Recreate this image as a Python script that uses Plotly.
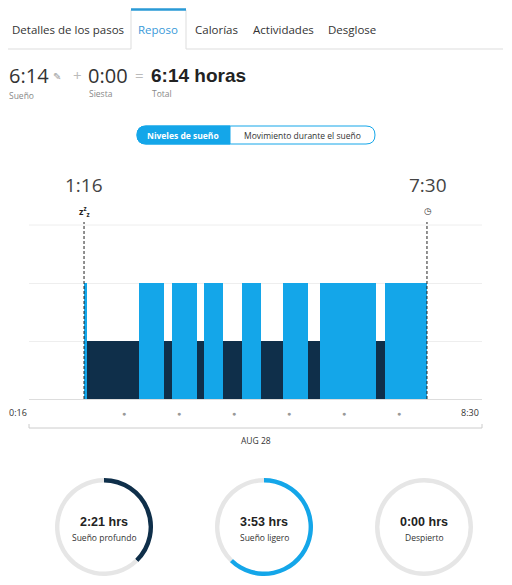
import plotly.graph_objects as go

W, H = 496, 569   # page body has an 8px margin inside the 512x585 window
OFF = 8
# sleep segments, minutes since midnight
light_start = [76, 136, 172, 207, 248, 293, 333, 404]
light_end   = [79, 163, 199, 227.5, 269, 320, 394, 450]
deep_start  = [79, 163, 199, 227.5, 269, 320, 394]
deep_end    = [136, 172, 207, 248, 293, 333, 404]
hour_dots = [120, 180, 240, 300, 360, 420]
x_min, x_max = 16, 510
sleep_start, sleep_end = 76, 450
ring_labels = ["2:21 hrs", "3:53 hrs", "0:00 hrs"]
ring_names = ["Sueño profundo", "Sueño ligero", "Despierto"]
ring_minutes = [141, 233, 0]
total_minutes = 374
ring_colors = ["#0f2f4a", "#14a6e9", "#e6e6e6"]

LIGHT, DEEP = "#14a6e9", "#0f2f4a"
FONT = "Open Sans"

def px(x): return (x - OFF) / W
def py(y): return 1 - (y - OFF) / H

fig = go.Figure()
fig.add_trace(go.Bar(x=[(s + e) / 2 for s, e in zip(light_start, light_end)],
                     y=[2] * len(light_start), width=[e - s for s, e in zip(light_start, light_end)],
                     marker=dict(color=LIGHT, line_width=0), hoverinfo="skip"))
fig.add_trace(go.Bar(x=[(s + e) / 2 for s, e in zip(deep_start, deep_end)],
                     y=[1] * len(deep_start), width=[e - s for s, e in zip(deep_start, deep_end)],
                     marker=dict(color=DEEP, line_width=0), hoverinfo="skip"))

centers = [104, 264, 424]
for i, c in enumerate(centers):
    val = ring_minutes[i]
    vals = [val, total_minutes - val] if val > 0 else [1]
    cols = [ring_colors[i], "#e6e6e6"] if val > 0 else ["#e6e6e6"]
    fig.add_trace(go.Pie(values=vals, marker=dict(colors=cols, line=dict(color="white", width=0)),
                         hole=0.91, sort=False, direction="clockwise", rotation=0,
                         textinfo="none", hoverinfo="skip", showlegend=False,
                         domain=dict(x=[px(c - 49), px(c + 49)], y=[py(576), py(478)])))

ann = []
def T(x, y, text, size=12, color="#333", anchor="left", family=FONT):
    ann.append(dict(x=px(x), y=py(y), xref="paper", yref="paper", text=text, showarrow=False,
                    xanchor=anchor, yanchor="middle", font=dict(size=size, color=color, family=family)))

T(68, 30, "Detalles de los pasos", 11.5, "#333", "center")
T(158, 30, "Reposo", 11.5, "#3a9ad9", "center")
T(216, 30, "Calorías", 11.5, "#333", "center")
T(283, 30, "Actividades", 11.5, "#333", "center")
T(352, 30, "Desglose", 11.5, "#333", "center")
T(7, 75, "6:14", 20, "#333")
T(51, 76, "✎", 10, "#999")
T(71, 75, "+", 15, "#bbb")
T(86, 75, "0:00", 20, "#333")
T(133, 75, "=", 15, "#bbb")
T(149, 75, "<b>6:14 horas</b>", 19, "#222", family="Liberation Sans")
T(7, 95, "Sueño", 8.5, "#888")
T(87, 93, "Siesta", 8.5, "#888")
T(150, 93, "Total", 8.5, "#888")
T(183, 135, "<b>Niveles de sueño</b>", 8.5, "white", "center")
T(302, 135, "Movimiento durante el sueño", 8.5, "#333", "center")
T(84, 185, "1:16", 19, "#444", "center")
T(428, 185, "7:30", 19, "#444", "center")
T(84, 211, "<b>z<sup>z</sup><sub>z</sub></b>", 9, "#222", "center")
T(428, 211, "◷", 9, "#333", "center", family="DejaVu Sans")
T(18, 412, "0:16", 9, "#333", "center")
T(470, 412, "8:30", 9, "#333", "center")
T(256, 440, "AUG 28", 8.5, "#333", "center")
for h in hour_dots:
    ann.append(dict(x=h, y=py(413), xref="x", yref="paper", text="●", showarrow=False,
                    xanchor="center", yanchor="middle", font=dict(size=7, color="#999")))
for c, l, n in zip(centers, ring_labels, ring_names):
    T(c, 522, f"<b>{l}</b>", 12.5, "#222", "center", family="Liberation Sans")
    T(c, 537, n, 8.5, "#333", "center")

shapes = []
def L(x0, y0, x1, y1, color="#ddd", width=1, dash="solid"):
    shapes.append(dict(type="line", xref="paper", yref="paper", x0=px(x0), y0=py(y0), x1=px(x1), y1=py(y1),
                       line=dict(color=color, width=width, dash=dash)))
L(8, 49, 131, 49); L(186, 49, 503, 49)
L(131, 10, 131, 49); L(186, 10, 186, 49)
L(131, 9.5, 186, 9.5, "#2a9ad6", 2.5)
L(29, 225, 482, 225, "#eeeeee")
def pill(x0, x1, y0, y1, r, fill, line):
    p = (f"M {px(x0+r)} {py(y0)} L {px(x1-r)} {py(y0)} Q {px(x1)} {py(y0)} {px(x1)} {py((y0+y1)/2)} "
         f"Q {px(x1)} {py(y1)} {px(x1-r)} {py(y1)} L {px(x0+r)} {py(y1)} Q {px(x0)} {py(y1)} {px(x0)} {py((y0+y1)/2)} "
         f"Q {px(x0)} {py(y0)} {px(x0+r)} {py(y0)} Z")
    shapes.append(dict(type="path", xref="paper", yref="paper", path=p, fillcolor=fill, line=dict(color=line, width=1)))
pill(137, 375, 126, 144, 9, "white", "#14a6e9")
p = (f"M {px(146)} {py(126)} L {px(230)} {py(126)} L {px(230)} {py(144)} L {px(146)} {py(144)} "
     f"Q {px(137)} {py(144)} {px(137)} {py(135)} Q {px(137)} {py(126)} {px(146)} {py(126)} Z")
shapes.append(dict(type="path", xref="paper", yref="paper", path=p, fillcolor="#14a6e9", line=dict(color="#14a6e9", width=1)))
L(29, 428, 482, 428, "#ccc"); L(29, 424, 29, 428, "#ccc"); L(482, 424, 482, 428, "#ccc")
for t in (sleep_start, sleep_end):
    shapes.append(dict(type="line", xref="x", yref="paper", x0=t, x1=t, y0=py(399), y1=py(222),
                       line=dict(color="#222", width=1, dash="3px,2px"), layer="above"))

fig.update_layout(
    width=W, height=H, margin=dict(l=0, r=0, t=0, b=0), paper_bgcolor="white", plot_bgcolor="white",
    showlegend=False, barmode="overlay", bargap=0,
    xaxis=dict(range=[x_min, x_max], domain=[px(29), px(482)], showticklabels=False, showgrid=False,
               zeroline=False, fixedrange=True),
    yaxis=dict(range=[0, 3], domain=[py(399), py(225)], showticklabels=False, dtick=1,
               gridcolor="#eeeeee", zeroline=True, zerolinecolor="#dddddd", zerolinewidth=1),
    annotations=ann, shapes=shapes,
)
fig.write_html("out.html")
